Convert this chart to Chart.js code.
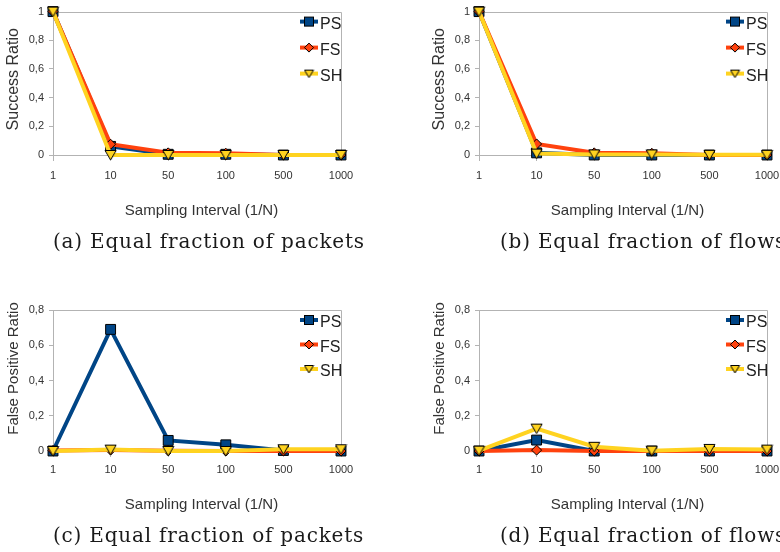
<!DOCTYPE html>
<html>
<head>
<meta charset="utf-8">
<script src="https://cdn.jsdelivr.net/npm/chart.js@4.4.0/dist/chart.umd.min.js"></script>
<style>
  html, body { margin: 0; padding: 0; background: #fff; }
  body { position: relative; width: 780px; height: 552px; overflow: hidden; }
  canvas { position: absolute; }
  .caption {
    position: absolute;
    font: 20px "DejaVu Serif", "Liberation Serif", serif;
    letter-spacing: 0.8px;
    line-height: 24px;
    color: #1a1a1a;
    white-space: nowrap;
  }
</style>
</head>
<body>
<canvas id="chartA" width="390" height="240" style="left:0;top:0"></canvas>
<canvas id="chartB" width="390" height="240" style="left:426px;top:0"></canvas>
<canvas id="chartC" width="390" height="240" style="left:0;top:290px"></canvas>
<canvas id="chartD" width="390" height="240" style="left:426px;top:290px"></canvas>
<div class="caption" style="left:53px;top:229px">(a) Equal fraction of packets</div>
<div class="caption" style="left:500px;top:229px">(b) Equal fraction of flows</div>
<div class="caption" style="left:53px;top:523px">(c) Equal fraction of packets</div>
<div class="caption" style="left:500px;top:523px">(d) Equal fraction of flows</div>
<script>
const intervals = ['1', '10', '50', '100', '500', '1000'];
const successTicks = ['0', '0,2', '0,4', '0,6', '0,8', '1'];
const fpTicks = ['0', '0,2', '0,4', '0,6', '0,8'];

// (a) success ratio, equal fraction of packets
const successPacketsPS = [1, 0.06, 0.005, 0.005, 0, 0];
const successPacketsFS = [1, 0.075, 0.015, 0.012, 0, 0];
const successPacketsSH = [1, 0, 0, 0, 0, 0];

// (b) success ratio, equal fraction of flows
const successFlowsPS = [1, 0.015, 0, 0, 0, 0];
const successFlowsFS = [1, 0.077, 0.015, 0.012, 0, 0];
const successFlowsSH = [1, 0.01, 0.004, 0.004, 0.001, 0.001];

// (c) false positive ratio, equal fraction of packets
const fpPacketsPS = [0, 0.69, 0.06, 0.035, 0.003, 0];
const fpPacketsFS = [0.003, 0.005, 0.002, 0, 0, 0];
const fpPacketsSH = [0, 0.008, 0, 0, 0.01, 0.01];

// (d) false positive ratio, equal fraction of flows
const fpFlowsPS = [0, 0.062, 0, 0, 0, 0];
const fpFlowsFS = [0, 0.005, 0, 0, 0, 0];
const fpFlowsSH = [0.002, 0.127, 0.024, 0.002, 0.012, 0.008];

const PS_COLOR = '#004586';
const FS_COLOR = '#ff420e';
const SH_COLOR = '#ffd320';
const AXIS_GREY = '#b3b3b3';

Chart.defaults.font.family = '"Liberation Sans", Arial, sans-serif';
Chart.defaults.color = '#333';

// downward triangle marker, centred on its box
function makeTriangle(w, h) {
  const c = document.createElement('canvas');
  c.width = w; c.height = h;
  const g = c.getContext('2d');
  g.beginPath();
  g.moveTo(1, 1.5);
  g.lineTo(w - 1, 1.5);
  g.lineTo(w / 2, h - 1);
  g.closePath();
  g.fillStyle = SH_COLOR;
  g.fill();
  g.strokeStyle = '#000';
  g.lineWidth = 1;
  g.stroke();
  return c;
}
const triangle = makeTriangle(13, 12);
const smallTriangle = makeTriangle(11, 10);

function series(ps, fs, sh) {
  return [
    { label: 'PS', data: ps, borderColor: PS_COLOR, pointStyle: 'rect', pointRadius: 7, order: 3 },
    { label: 'FS', data: fs, borderColor: FS_COLOR, pointStyle: 'rectRot', pointRadius: 5, order: 2 },
    { label: 'SH', data: sh, borderColor: SH_COLOR, pointStyle: triangle, pointRadius: 6, order: 1 }
  ].map(d => ({
    ...d,
    backgroundColor: d.borderColor,
    pointBackgroundColor: d.borderColor,
    pointBorderColor: '#000',
    pointBorderWidth: 1,
    borderWidth: 4,
    tension: 0,
    clip: false
  }));
}

// grey frame on the top and right of the plot
const frame = {
  id: 'frame',
  beforeDatasetsDraw(chart) {
    const { ctx, chartArea: a } = chart;
    ctx.save();
    ctx.strokeStyle = AXIS_GREY;
    ctx.lineWidth = 1;
    ctx.beginPath();
    ctx.moveTo(Math.round(a.left), Math.round(a.top) + 0.5);
    ctx.lineTo(Math.round(a.right) + 0.5, Math.round(a.top) + 0.5);
    ctx.lineTo(Math.round(a.right) + 0.5, Math.round(a.bottom));
    ctx.stroke();
    ctx.restore();
  }
};

// legend inside the plot, top right
const innerLegend = {
  id: 'innerLegend',
  afterDraw(chart, args, opts) {
    const { ctx, chartArea: a } = chart;
    ctx.save();
    chart.data.datasets.forEach((ds, i) => {
      const y = a.top + 10 + i * opts.gap;
      const cx = a.right - 32;
      ctx.strokeStyle = ds.borderColor;
      ctx.lineWidth = 4;
      ctx.beginPath();
      ctx.moveTo(a.right - 41, y);
      ctx.lineTo(a.right - 23, y);
      ctx.stroke();
      ctx.fillStyle = ds.borderColor;
      ctx.strokeStyle = '#000';
      ctx.lineWidth = 1;
      if (ds.pointStyle === 'rect') {
        ctx.fillRect(cx - 4.5, y - 4.5, 9, 9);
        ctx.strokeRect(cx - 4.5, y - 4.5, 9, 9);
      } else if (ds.pointStyle === 'rectRot') {
        ctx.beginPath();
        ctx.moveTo(cx, y - 4.5);
        ctx.lineTo(cx + 4.5, y);
        ctx.lineTo(cx, y + 4.5);
        ctx.lineTo(cx - 4.5, y);
        ctx.closePath();
        ctx.fill();
        ctx.stroke();
      } else {
        ctx.drawImage(smallTriangle, cx - 5.5, y - 5);
      }
      ctx.fillStyle = '#222';
      ctx.font = '16px "Liberation Sans", Arial, sans-serif';
      ctx.textAlign = 'left';
      ctx.textBaseline = 'middle';
      ctx.fillText(ds.label, a.right - 21, y + 3);
    });
    ctx.restore();
  }
};

// axis titles, placed the way the original office chart places them
const axisTitles = {
  id: 'axisTitles',
  afterDraw(chart, args, opts) {
    const { ctx, chartArea: a } = chart;
    ctx.save();
    ctx.fillStyle = '#333';
    ctx.textAlign = 'center';
    ctx.textBaseline = 'middle';
    ctx.font = '15px "Liberation Sans", Arial, sans-serif';
    ctx.fillText(opts.x, (a.left + a.right) / 2 + 4.5, a.bottom + opts.xGap);
    ctx.font = opts.ySize + 'px "Liberation Sans", Arial, sans-serif';
    ctx.translate(a.left - 39.5, (a.top + a.bottom) / 2 - opts.yShift);
    ctx.rotate(-Math.PI / 2);
    ctx.fillText(opts.y, 0, 0);
    ctx.restore();
  }
};

function createChart(id, canvasTop, plotTop, plotBottom, datasets, yMax, yLabels, yTitle, rows) {
  const canvas = document.getElementById(id);
  const H = canvas.height;
  return new Chart(canvas, {
    type: 'line',
    data: { labels: intervals, datasets: datasets },
    plugins: [frame, innerLegend, axisTitles],
    options: {
      responsive: false,
      animation: false,
      events: [],
      layout: {
        autoPadding: false,
        padding: { left: 0, top: plotTop - canvasTop, right: 49, bottom: 0 }
      },
      plugins: {
        legend: { display: false },
        tooltip: { enabled: false },
        innerLegend: { gap: rows.gap },
        axisTitles: { x: 'Sampling Interval (1/N)', y: yTitle, xGap: rows.xGap, yShift: rows.yShift, ySize: rows.ySize }
      },
      scales: {
        x: {
          type: 'category',
          offset: false,
          afterFit(scale) { scale.height = canvasTop + H - plotBottom; },
          grid: { drawOnChartArea: false, color: AXIS_GREY, tickLength: 6 },
          border: { color: AXIS_GREY },
          ticks: { font: { size: 11 }, padding: rows.tickPad, maxRotation: 0, autoSkip: false }
        },
        y: {
          min: 0,
          max: yMax,
          afterFit(scale) { scale.width = 53; },
          grid: { drawOnChartArea: false, color: AXIS_GREY, tickLength: 4 },
          border: { color: AXIS_GREY },
          ticks: {
            stepSize: 0.2,
            font: { size: 11 },
            padding: 5,
            callback: (v, i) => yLabels[i]
          }
        }
      }
    }
  });
}

const topRow = { gap: 26, xGap: 56, yShift: 4, ySize: 16, tickPad: 8 };
const bottomRow = { gap: 24.5, xGap: 54, yShift: 12, ySize: 15, tickPad: 6 };

createChart('chartA', 0, 5, 155, series(successPacketsPS, successPacketsFS, successPacketsSH), 1, successTicks, 'Success Ratio', topRow);
createChart('chartB', 0, 5, 155, series(successFlowsPS, successFlowsFS, successFlowsSH), 1, successTicks, 'Success Ratio', topRow);
createChart('chartC', 290, 310, 451, series(fpPacketsPS, fpPacketsFS, fpPacketsSH), 0.8, fpTicks, 'False Positive Ratio', bottomRow);
createChart('chartD', 290, 310, 451, series(fpFlowsPS, fpFlowsFS, fpFlowsSH), 0.8, fpTicks, 'False Positive Ratio', bottomRow);
</script>
</body>
</html>
